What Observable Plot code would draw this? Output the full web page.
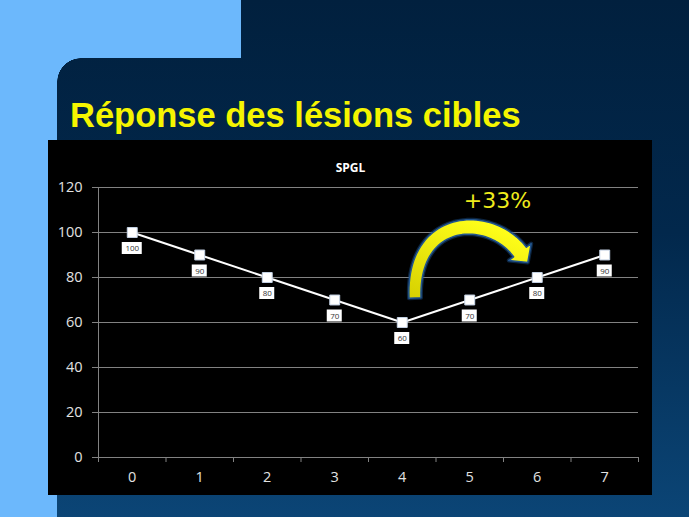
<!DOCTYPE html>
<html>
<head>
<meta charset="utf-8">
<script src="https://cdn.jsdelivr.net/npm/d3@7"></script>
<script src="https://cdn.jsdelivr.net/npm/@observablehq/plot@0.6"></script>
<style>
  html, body { margin: 0; padding: 0; }
  body { width: 689px; height: 517px; position: relative; overflow: hidden; background: #6cb8fc; }
  #dark { position: absolute; left: 0; top: 0; width: 689px; height: 517px;
    background: linear-gradient(to bottom, #01203e 0%, #02284c 45%, #0b4576 100%); }
  .lb { position: absolute; background: #6cb8fc; }
  #corner { position: absolute; left: 57px; top: 58px; width: 24px; height: 24px;
    background: radial-gradient(circle at 100% 100%, transparent 23.5px, #6cb8fc 24px); }
  #title { position: absolute; left: 70px; top: 98px; font-family: "Liberation Sans", Arial, sans-serif;
    font-weight: bold; font-size: 34.5px; line-height: 34px; color: #f5f500; white-space: nowrap; }
  #chart { position: absolute; left: 48px; top: 140px; width: 604px; height: 355px; background: #000; }
  #chart svg { display: block; }
</style>
</head>
<body>
<div id="dark"></div>
<div class="lb" style="left:0;top:0;width:241px;height:58px;"></div>
<div class="lb" style="left:0;top:0;width:57px;height:517px;"></div>
<div id="corner"></div>
<div id="title">Réponse des lésions cibles</div>
<div id="chart"></div>
<script>
// ---- data ----
const chartTitle = "SPGL";
const categories = [0, 1, 2, 3, 4, 5, 6, 7];
const values = [100, 90, 80, 70, 60, 70, 80, 90];
const yTicks = [0, 20, 40, 60, 80, 100, 120];
const xBandEdges = [-0.5, 0.5, 1.5, 2.5, 3.5, 4.5, 5.5, 6.5, 7.5];
// curved arrow annotation (data units: x category, y value)
const arrowPoints = [
  {x: 4.196, y: 70.7},
  {x: 4.152, y: 107.6},
  {x: 5.307, y: 108.9},
  {x: 5.752, y: 91.1}
];
const annotationText = [{text: "+33%", x: 5.41, y: 113.8}];

const data = categories.map((c, i) => ({x: c, y: values[i], label: String(values[i])}));

// label boxes under points
function labelBoxes(index, scales) {
  const g = d3.create("svg:g");
  for (const d of data) {
    const w = 5 * d.label.length + 5;
    g.append("rect")
      .attr("x", scales.x(d.x) - w / 2)
      .attr("y", scales.y(d.y) + 16 - 6)
      .attr("width", w).attr("height", 12)
      .attr("fill", "#ffffff");
  }
  return g.node();
}

// curved yellow arrow
function curvedArrow(index, scales) {
  const P = arrowPoints.map(d => [scales.x(d.x), scales.y(d.y)]);
  const pt = t => {
    const u = 1 - t;
    const a = u*u*u, b = 3*u*u*t, c = 3*u*t*t, e = t*t*t;
    return [a*P[0][0] + b*P[1][0] + c*P[2][0] + e*P[3][0],
            a*P[0][1] + b*P[1][1] + c*P[2][1] + e*P[3][1]];
  };
  const der = t => {
    const u = 1 - t;
    return [3*u*u*(P[1][0]-P[0][0]) + 6*u*t*(P[2][0]-P[1][0]) + 3*t*t*(P[3][0]-P[2][0]),
            3*u*u*(P[1][1]-P[0][1]) + 6*u*t*(P[2][1]-P[1][1]) + 3*t*t*(P[3][1]-P[2][1])];
  };
  const N = 48, left = [], right = [];
  for (let i = 0; i <= N; i++) {
    const t = i / N, p = pt(t), d = der(t);
    const L = Math.hypot(d[0], d[1]);
    const n = [-d[1] / L, d[0] / L];
    const w = (12 + 4 * t) / 2;
    left.push([p[0] + n[0]*w, p[1] + n[1]*w]);
    right.push([p[0] - n[0]*w, p[1] - n[1]*w]);
  }
  const dEnd = der(1), Le = Math.hypot(dEnd[0], dEnd[1]);
  const dir = [dEnd[0]/Le, dEnd[1]/Le], nrm = [-dir[1], dir[0]];
  const end = P[3];
  const wing1 = [end[0] + nrm[0]*14, end[1] + nrm[1]*14];
  const wing2 = [end[0] - nrm[0]*14, end[1] - nrm[1]*14];
  const tip = [end[0] + dir[0]*13, end[1] + dir[1]*13];
  const poly = [...left, wing1, tip, wing2, ...right.reverse()];
  const g = d3.create("svg:g");
  const defs = g.append("defs");
  const grad = defs.append("linearGradient").attr("id", "arrowGrad")
    .attr("x1", "0").attr("y1", "1").attr("x2", "0.6").attr("y2", "0");
  grad.append("stop").attr("offset", "0%").attr("stop-color", "#d6d000");
  grad.append("stop").attr("offset", "100%").attr("stop-color", "#ffff1a");
  g.append("path")
    .attr("d", "M" + poly.map(p => p.join(",")).join("L") + "Z")
    .attr("fill", "none").attr("stroke", "#1b4f8c").attr("stroke-width", 4)
    .attr("stroke-opacity", 0.45).attr("stroke-linejoin", "round");
  g.append("path")
    .attr("d", "M" + poly.map(p => p.join(",")).join("L") + "Z")
    .attr("fill", "url(#arrowGrad)").attr("stroke", "#22558f").attr("stroke-width", 1.5)
    .attr("stroke-linejoin", "round");
  return g.node();
}

const plot = Plot.plot({
  width: 604,
  height: 355,
  marginLeft: 50,
  marginRight: 14,
  marginTop: 47,
  marginBottom: 38,
  style: {background: "#000000", color: "#e2e2e2", fontFamily: "'Open Sans', sans-serif", fontSize: "14.5px"},
  x: {domain: [-0.5, 7.5]},
  y: {domain: [0, 120]},
  marks: [
    Plot.gridY(yTicks, {stroke: "#828282", strokeOpacity: 1, strokeWidth: 1}),
    Plot.ruleX([-0.5], {stroke: "#828282"}),
    Plot.ruleY([0], {stroke: "#828282"}),
    Plot.axisY(yTicks, {tickSize: 6, tickPadding: 10, stroke: "#828282", fill: "#e2e2e2", label: null}),
    Plot.axisX(xBandEdges, {tickSize: 5, tickFormat: () => "", stroke: "#828282", label: null}),
    Plot.axisX(categories, {tickSize: 0, tickPadding: 14, fill: "#e2e2e2", label: null}),
    Plot.text([chartTitle], {frameAnchor: "top", dx: -18, dy: -24, fill: "#ffffff", fontWeight: "bold", fontSize: 12}),
    Plot.line(data, {x: "x", y: "y", stroke: "#ffffff", strokeWidth: 2}),
    Plot.dot(data, {x: "x", y: "y", symbol: "square", r: 5.6, fill: "#ffffff", stroke: "#c5d3e6", strokeWidth: 1}),
    labelBoxes,
    Plot.text(data, {x: "x", y: "y", text: "label", dy: 16, fontSize: 8, fill: "#333333"}),
    curvedArrow,
    Plot.text(annotationText, {x: "x", y: "y", text: "text", fill: "#efeb1c", fontSize: 22, fontFamily: "'DejaVu Sans', sans-serif"})
  ]
});
document.getElementById("chart").appendChild(plot);
</script>
</body>
</html>
